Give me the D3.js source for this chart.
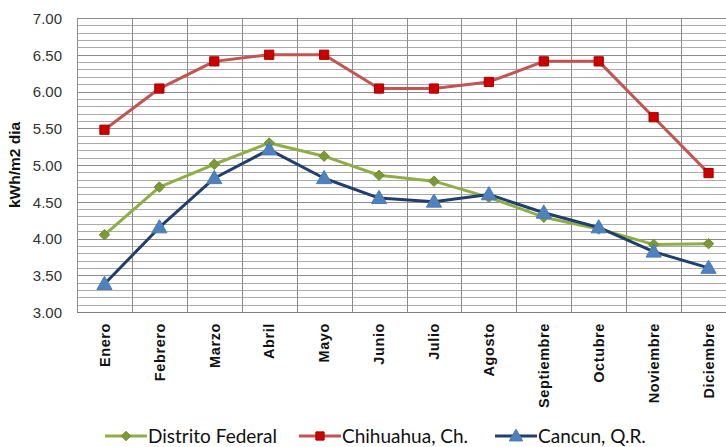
<!DOCTYPE html>
<html>
<head>
<meta charset="utf-8">
<script src="https://cdn.jsdelivr.net/npm/d3@7"></script>
<style>
  html, body { margin: 0; padding: 0; background: #fff; }
  svg { display: block; }
</style>
</head>
<body>
<div id="chart"></div>
<script>
const months = ["Enero","Febrero","Marzo","Abril","Mayo","Junio","Julio","Agosto","Septiembre","Octubre","Noviembre","Diciembre"];
const distritoFederal = [4.05, 4.70, 5.01, 5.30, 5.12, 4.86, 4.78, 4.56, 4.29, 4.13, 3.92, 3.93];
const chihuahua = [5.48, 6.04, 6.41, 6.50, 6.50, 6.04, 6.04, 6.13, 6.41, 6.41, 5.65, 4.89];
const cancun = [3.38, 4.15, 4.82, 5.21, 4.82, 4.55, 4.50, 4.60, 4.35, 4.15, 3.82, 3.60];
const yTickValues = [3.0, 3.5, 4.0, 4.5, 5.0, 5.5, 6.0, 6.5, 7.0];
const yTitle = "kWh/m2 dia";

const series = [
  { name: "Distrito Federal", values: distritoFederal, line: "#8FAE47", fill: "#7A9A35", stroke: "#6E8B30", marker: "diamond" },
  { name: "Chihuahua, Ch.", values: chihuahua, line: "#C25452", fill: "#CC0000", stroke: "#A80000", marker: "square" },
  { name: "Cancun, Q.R.", values: cancun, line: "#203F6C", fill: "#4F81BD", stroke: "#4A7AB5", marker: "triangle" }
];

(function () {
const W = 726, H = 447;
const pLeft = 77, pRight = 736, pTop = 18, pBottom = 312;

const svg = d3.select("#chart").append("svg").attr("width", W).attr("height", H);

const x = d3.scaleBand().domain(months).range([pLeft, pRight]).padding(0);
const y = d3.scaleLinear().domain([3, 7]).range([pBottom, pTop]);
const cx = m => x(m) + x.bandwidth() / 2;

// minor horizontal gridlines
const minor = d3.range(30, 71).map(v => v / 10);
svg.append("g").selectAll("line").data(minor).join("line")
  .attr("x1", pLeft).attr("x2", pRight)
  .attr("y1", d => Math.round(y(d)) + 0.5).attr("y2", d => Math.round(y(d)) + 0.5)
  .attr("stroke", d => (Math.round(d * 10) % 5 === 0) ? "#8c8c8c" : "#ababab")
  .attr("stroke-width", 1);

// vertical gridlines at category boundaries
const bounds = months.map(m => x(m)).concat([pRight]);
svg.append("g").selectAll("line").data(bounds).join("line")
  .attr("x1", d => Math.round(d) + 0.5).attr("x2", d => Math.round(d) + 0.5)
  .attr("y1", pTop).attr("y2", pBottom)
  .attr("stroke", "#8c8c8c").attr("stroke-width", 1);

// bottom axis line
svg.append("line").attr("x1", pLeft).attr("x2", pRight)
  .attr("y1", pBottom + 0.5).attr("y2", pBottom + 0.5)
  .attr("stroke", "#808080").attr("stroke-width", 1);

// y axis labels
const yAxis = d3.axisLeft(y).tickValues(yTickValues).tickFormat(d3.format(".2f")).tickSize(0).tickPadding(0);
const gy = svg.append("g").attr("transform", `translate(${62},0)`).call(yAxis);
gy.select(".domain").remove();
gy.selectAll("text")
  .attr("font-family", "'Liberation Sans', Arial, sans-serif")
  .attr("font-size", 15).attr("fill", "#333").attr("dy", "0.35em");

// x axis labels
const xAxis = d3.axisBottom(x).tickSize(0).tickPadding(0);
const gx = svg.append("g").attr("transform", `translate(0,${pBottom})`).call(xAxis);
gx.select(".domain").remove();
gx.selectAll("text")
  .attr("font-family", "'Liberation Sans', Arial, sans-serif")
  .attr("font-size", 14.5).attr("font-weight", "bold").attr("fill", "#111")
  .attr("letter-spacing", "0.6px")
  .attr("text-anchor", "end")
  .attr("transform", "rotate(-90)")
  .attr("x", -11).attr("y", 0).attr("dy", "0.36em");

// y title
svg.append("text")
  .attr("transform", `translate(20,${165}) rotate(-90)`)
  .attr("text-anchor", "middle")
  .attr("font-family", "'Liberation Sans', Arial, sans-serif")
  .attr("font-size", 15.5).attr("font-weight", "bold").attr("fill", "#111")
  .text(yTitle);

const diamond = { draw(ctx, size) { const r = Math.sqrt(size) / 2 * 1.35; ctx.moveTo(0, -r); ctx.lineTo(r, 0); ctx.lineTo(0, r); ctx.lineTo(-r, 0); ctx.closePath(); } };
const symType = { diamond: diamond, square: d3.symbolSquare, triangle: d3.symbolTriangle };
const symSize = { diamond: 60, square: 85, triangle: 100 };

const lineGen = d3.line().x((d, i) => cx(months[i])).y(d => y(d));

series.forEach(s => {
  const g = svg.append("g");
  g.append("path").datum(s.values)
    .attr("d", lineGen).attr("fill", "none")
    .attr("stroke", s.line).attr("stroke-width", 3).attr("stroke-linejoin", "round");
  g.selectAll("path.m").data(s.values).join("path").attr("class", "m")
    .attr("d", d3.symbol(symType[s.marker], symSize[s.marker]))
    .attr("transform", (d, i) => `translate(${cx(months[i])},${y(d) + (s.marker === "triangle" ? 1 : 0)})`)
    .attr("fill", s.fill).attr("stroke", s.stroke).attr("stroke-width", 1);
});

// legend
const legendX = [105, 299, 495];
const legendY = 436;
series.forEach((s, i) => {
  const g = svg.append("g").attr("transform", `translate(${legendX[i]},${legendY})`);
  g.append("line").attr("x1", 0).attr("x2", 42).attr("y1", 0).attr("y2", 0)
    .attr("stroke", s.line).attr("stroke-width", 3);
  g.append("path").attr("d", d3.symbol(symType[s.marker], symSize[s.marker] * 0.8))
    .attr("transform", `translate(21,${s.marker === "triangle" ? 1 : 0})`)
    .attr("fill", s.fill).attr("stroke", s.stroke).attr("stroke-width", 1);
  g.append("text").attr("x", 43).attr("y", 7)
    .attr("font-family", "Lato, 'Open Sans', sans-serif")
    .attr("font-size", 19).attr("fill", "#111")
    .text(s.name);
});
})();
</script>
</body>
</html>
